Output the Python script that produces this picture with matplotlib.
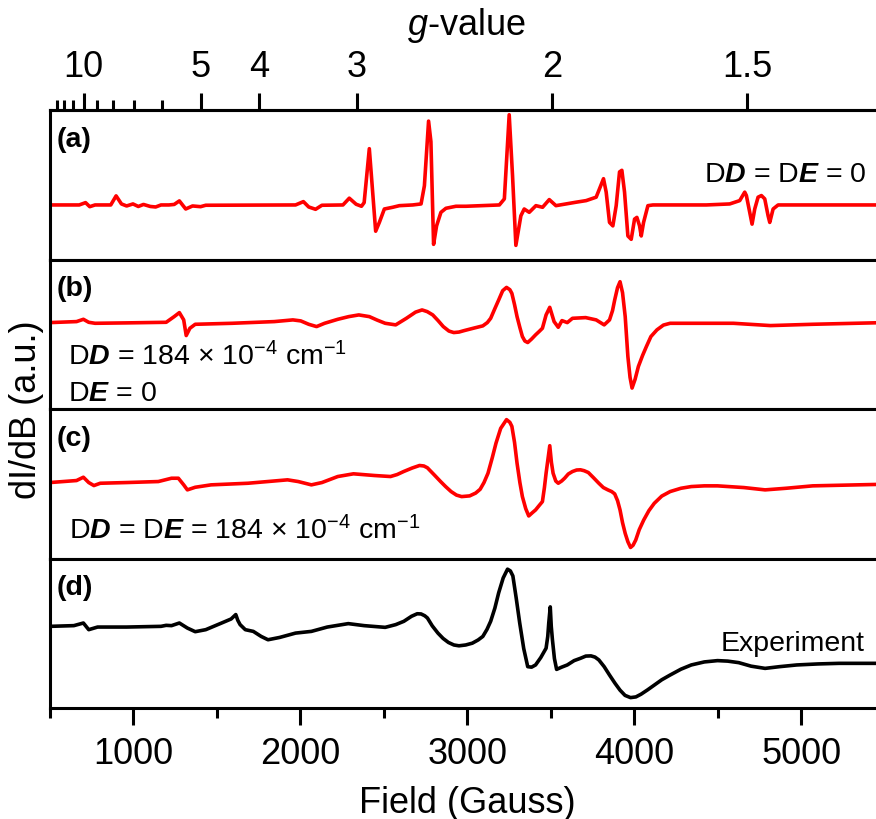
import numpy as np
import matplotlib
matplotlib.use("Agg")
import matplotlib.pyplot as plt
from matplotlib.ticker import MultipleLocator, FixedLocator

plt.rcParams['font.family'] = ['Liberation Sans', 'DejaVu Sans']
plt.rcParams['mathtext.fontset'] = 'custom'
plt.rcParams['mathtext.rm'] = 'Liberation Sans'
plt.rcParams['mathtext.it'] = 'Liberation Sans:italic'
plt.rcParams['mathtext.bf'] = 'Liberation Sans:italic:bold'

# g * B in Gauss at the spectrometer frequency (g = 2 at ~3507 G)
G_TIMES_B = 7014

# (a) simulation, DD = DE = 0
field_a = [500, 675, 713, 738, 770, 864, 896, 928, 959, 997, 1029, 1060, 1101, 1133, 1165,
           1212, 1244, 1275, 1313, 1354, 1402, 1433, 1971, 2018, 2050, 2091, 2129, 2255,
           2293, 2334, 2366, 2382, 2413, 2425, 2451, 2473, 2503, 2553, 2593, 2673, 2723,
           2743, 2768, 2782, 2798, 2816, 2842, 2872, 2932, 2992, 3192, 3222, 3251, 3271,
           3291, 3321, 3341, 3371, 3411, 3451, 3491, 3531, 3591, 3651, 3712, 3742, 3772,
           3792, 3816, 3832, 3852, 3872, 3892, 3912, 3926, 3942, 3962, 3982, 4002, 4016,
           4032, 4042, 4056, 4082, 4112, 4432, 4572, 4632, 4662, 4672, 4692, 4706, 4722,
           4742, 4762, 4782, 4802, 4812, 4832, 4862, 5500]
signal_a = [0, 0, 2.3, -1.7, 0, 0, 9, 1, -1, 1, -1.5, 0.5, -1.5, -2, 0,
            0, 0.5, 4, -4, -1, -1.7, -0.3, 0, 3.3, -2, -4.3, -0.3, 0,
            6.7, 0.7, -1.3, 2.3, 55.7, 30, -26, -17.3, -4, -2.3, -0.7, 0, 1,
            19, 83, 62.7, -39, -20.7, -7.3, -3.3, -1.3, -1.3, 0, 6, 89.3, 29,
            -40, -10.7, -4, -7.3, -0.7, -2.3, 5.3, -0.7, 1, 2.7, 4.3, 6, 7.7,
            16, 26, 12.7, -17.3, -20.7, -0.7, 32.7, 34.3, 12.7, -30.7, -34, -14, -12.3,
            -20.7, -30.7, -17.3, -0.7, 0, 0, 1, 4.3, 12.7, 9.3, -7.3, -19, -4,
            7.7, 9.3, 6, -10.7, -17.3, -4, 0, 0]

# (b) simulation, DD = 184e-4 cm-1, DE = 0
field_b = [500, 659, 700, 732, 770, 959, 1196, 1244, 1275, 1301, 1316, 1338, 1370, 1591,
           1844, 1955, 2002, 2050, 2097, 2145, 2224, 2290, 2350, 2413, 2460, 2508, 2571,
           2635, 2690, 2729, 2760, 2793, 2825, 2856, 2890, 2919, 2950, 2982, 3040, 3093,
           3120, 3140, 3165, 3188, 3212, 3235, 3255, 3267, 3283, 3298, 3315, 3330, 3345,
           3362, 3385, 3409, 3430, 3450, 3472, 3494, 3520, 3545, 3567, 3599, 3630, 3709,
           3772, 3820, 3852, 3870, 3883, 3900, 3915, 3930, 3946, 3962, 3975, 3987, 4005,
           4025, 4050, 4073, 4100, 4136, 4175, 4215, 4594, 4816, 5069, 5500]
signal_b = [0, 1, 3.3, 0.3, -0.7, -0.3, 0.3, 6, 10, 2.7, -13, -5.7, -1.7, -0.7,
            1, 2.7, 1.7, -1.7, -4, -0.7, 3.3, 6, 7.7, 6, 2.5, -0.7, -2.3,
            4.3, 10.5, 12.7, 11, 7.7, 2, -4, -8.5, -10, -9.5, -8, -5.5, -3.3,
            0, 4.3, 14, 22.7, 32, 35.3, 33, 29.3, 18, 6, -5, -14, -18.5,
            -20, -16.5, -12.3, -9, -5.7, 7.7, 15.3, 1, -4.7, 2, 0, 4.3, 5,
            2.7, -2.3, 2.7, 12, 22.7, 35, 41, 30, 6, -34, -55, -65.7, -57,
            -44, -33, -24, -14, -7.3, -2.5, -0.7, -0.7, -3, -1.7, 0]

# (c) simulation, DD = DE = 184e-4 cm-1
field_c = [500, 659, 700, 732, 763, 801, 959, 1149, 1228, 1269, 1301, 1323, 1370, 1465,
           1686, 1923, 1987, 2066, 2129, 2224, 2318, 2445, 2540, 2580, 2619, 2670, 2714,
           2740, 2761, 2800, 2840, 2870, 2903, 2935, 2966, 3014, 3050, 3077, 3100, 3124,
           3150, 3172, 3200, 3235, 3255, 3267, 3283, 3298, 3315, 3330, 3350, 3368, 3390,
           3409, 3430, 3450, 3462, 3472, 3494, 3504, 3514, 3530, 3545, 3565, 3583, 3605,
           3630, 3655, 3678, 3700, 3725, 3755, 3788, 3815, 3842, 3865, 3883, 3900, 3915,
           3930, 3946, 3962, 3978, 3993, 4009, 4030, 4057, 4088, 4120, 4165, 4215, 4280,
           4342, 4420, 4499, 4657, 4784, 4910, 5069, 5500]
signal_c = [0, 2, 5.3, 0, -3, -0.7, 0, 1, 4.3, 4.3, -2.3, -7.3, -4.7, -2.3,
            -0.7, 2.7, 1, -2.3, 0, 6, 8.7, 7, 6, 8, 11, 14.5, 17,
            16.5, 14.7, 8, 1, -4, -9, -12.5, -14, -13.3, -10.5, -6.7, 0, 9.3,
            25, 39.3, 54, 62.7, 60, 56, 40, 19.3, 0, -14, -26, -33.3, -30,
            -27.3, -23, -19, -5, 9.3, 36.7, 20, 9.3, 1.5, -0.7, 1.5, 4.3, 8.5,
            11, 12.5, 12.7, 11.8, 10, 5, -0.7, -5, -7.3, -9, -11.3, -18, -27.3,
            -40, -50.7, -59, -64.7, -62.5, -57.3, -47, -37.3, -28, -20.7, -13.5, -9, -5.7,
            -4, -3.3, -3.3, -5, -7.3, -5.7, -3.3, -1.7]

# (d) experimental spectrum
field_d = [500, 643, 700, 732, 785, 959, 1165, 1196, 1228, 1275, 1323, 1370, 1433, 1528,
           1585, 1613, 1625, 1639, 1670, 1718, 1765, 1806, 1876, 1971, 2066, 2161, 2287,
           2382, 2508, 2571, 2620, 2666, 2700, 2723, 2745, 2761, 2790, 2824, 2855, 2887,
           2920, 2950, 2990, 3030, 3065, 3093, 3118, 3140, 3165, 3188, 3215, 3241, 3258,
           3273, 3293, 3314, 3338, 3362, 3385, 3409, 3440, 3472, 3482, 3488, 3497, 3503,
           3510, 3522, 3535, 3565, 3599, 3640, 3678, 3710, 3741, 3765, 3788, 3820, 3852,
           3885, 3915, 3945, 3978, 4010, 4041, 4080, 4120, 4165, 4215, 4280, 4342, 4420,
           4499, 4560, 4626, 4700, 4784, 4870, 4974, 5100, 5227, 5500]
signal_d = [0, 0.7, 3.3, -3.3, -0.7, -0.7, 0, 1, 0.7, 3.3, -1.7, -5.3, -3.3, 3.3,
            7.3, 11.7, 6, 1.7, -3.3, -5, -10, -13.3, -11, -6.7, -5, -0.7, 2.7,
            0.7, -1, 1.7, 5, 10, 12.5, 12.3, 10.5, 8.3, 0.5, -6.7, -12, -16,
            -18.5, -19.3, -18.5, -16.7, -13.5, -10, -3, 5, 18, 33.3, 48, 56.7, 55,
            50, 28, 3.3, -22, -40, -40.5, -38.3, -31, -21.7, -10, 3.3, 19.3, 0,
            -13.3, -32, -42.7, -40.5, -38.3, -34, -31.7, -29.5, -29.3, -30.5, -33.3, -40, -48.3,
            -56.5, -63.3, -68.5, -70.7, -70, -67.3, -63, -58.3, -53, -48.3, -42.5, -38.3, -35.3,
            -34, -34.5, -36, -39.5, -41.7, -40, -38.3, -37.3, -36.7, -36.7]

panel_tags = ['(a)', '(b)', '(c)', '(d)']
g_ticks = [10, 5, 4, 3, 2, 1.5]
g_tick_labels = ['10', '5', '4', '3', '2', '1.5']
g_minor_ticks = [6, 7, 8, 9, 11, 12, 13]

panels = [
    (field_a, signal_a, 'red', (-54, 94)),
    (field_b, signal_b, 'red', (-86.7, 63.3)),
    (field_c, signal_c, 'red', (-75.7, 73.3)),
    (field_d, signal_d, 'black', (-81, 67.3)),
]

W, H = 876, 820
fig = plt.figure(figsize=(W / 100, H / 100), dpi=100)

left, right = 50 / W, 884.6 / W
top, bottom = 1 - 111 / H, 1 - 709 / H
ph = (top - bottom) / 4
spine_w = 2.2
tick_fs = 26
note_fs = 20.5

axes = []
for i, (x, y, color, ylim) in enumerate(panels):
    ax = fig.add_axes([left, top - (i + 1) * ph, right - left, ph])
    ax.plot(x, y, color=color, lw=2.6, solid_joinstyle='round')
    ax.set_xlim(500, 5500)
    ax.set_ylim(*ylim)
    ax.set_yticks([])
    for s in ax.spines.values():
        s.set_linewidth(spine_w)
    ax.tick_params(axis='x', which='both', bottom=False, labelbottom=False)
    ax.text(0.008, 0.76, panel_tags[i], transform=ax.transAxes, fontsize=note_fs,
            fontweight='bold', ha='left', va='baseline')
    axes.append(ax)

# bottom field axis
axb = axes[-1]
axb.xaxis.set_major_locator(MultipleLocator(1000))
axb.xaxis.set_minor_locator(MultipleLocator(500))
axb.tick_params(axis='x', which='both', bottom=True, labelbottom=True, direction='out',
                width=spine_w, labelsize=tick_fs)
axb.tick_params(axis='x', which='major', length=12, pad=8)
axb.tick_params(axis='x', which='minor', length=7)


def field_to_g(b):
    b = np.asarray(b, dtype=float)
    return G_TIMES_B / np.where(np.abs(b) < 1e-6, 1e-6, b)


# g-value axis along the top of the first panel
sec = axes[0].secondary_xaxis('top', functions=(field_to_g, field_to_g))
sec.set_xticks(g_ticks)
sec.set_xticklabels(g_tick_labels)
sec.xaxis.set_minor_locator(FixedLocator(g_minor_ticks))
sec.tick_params(axis='x', which='both', direction='out', width=spine_w, labelsize=tick_fs)
sec.tick_params(axis='x', which='major', length=12, pad=7)
sec.tick_params(axis='x', which='minor', length=7)
sec.spines['top'].set_linewidth(spine_w)

axes[0].text(0.9786, 0.527, r'D$\mathbf{D}$ = D$\mathbf{E}$ = 0', transform=axes[0].transAxes,
             fontsize=note_fs, ha='right', va='baseline')
axes[1].text(0.0216, 0.302, r'D$\mathbf{D}$ = 184 $\times$ 10$^{\mathrm{-4}}$ cm$^{\mathrm{-1}}$',
             transform=axes[1].transAxes, fontsize=note_fs, ha='left', va='baseline')
axes[1].text(0.0216, 0.057, r'D$\mathbf{E}$ = 0', transform=axes[1].transAxes,
             fontsize=note_fs, ha='left', va='baseline')
axes[2].text(0.0228, 0.134,
             r'D$\mathbf{D}$ = D$\mathbf{E}$ = 184 $\times$ 10$^{\mathrm{-4}}$ cm$^{\mathrm{-1}}$',
             transform=axes[2].transAxes, fontsize=note_fs, ha='left', va='baseline')
axes[3].text(0.9766, 0.391, 'Experiment', transform=axes[3].transAxes,
             fontsize=note_fs, ha='right', va='baseline')

fig.text(466.5 / W, 1 - 35 / H, r'$\mathit{g}$-value', fontsize=tick_fs, ha='center', va='baseline')
fig.text(467 / W, 1 - 813 / H, 'Field (Gauss)', fontsize=tick_fs, ha='center', va='baseline')
fig.text(27 / W, (top + bottom) / 2, 'dI/dB (a.u.)', fontsize=tick_fs, rotation=90,
         ha='center', va='center')

fig.savefig('out.png', dpi=100)
